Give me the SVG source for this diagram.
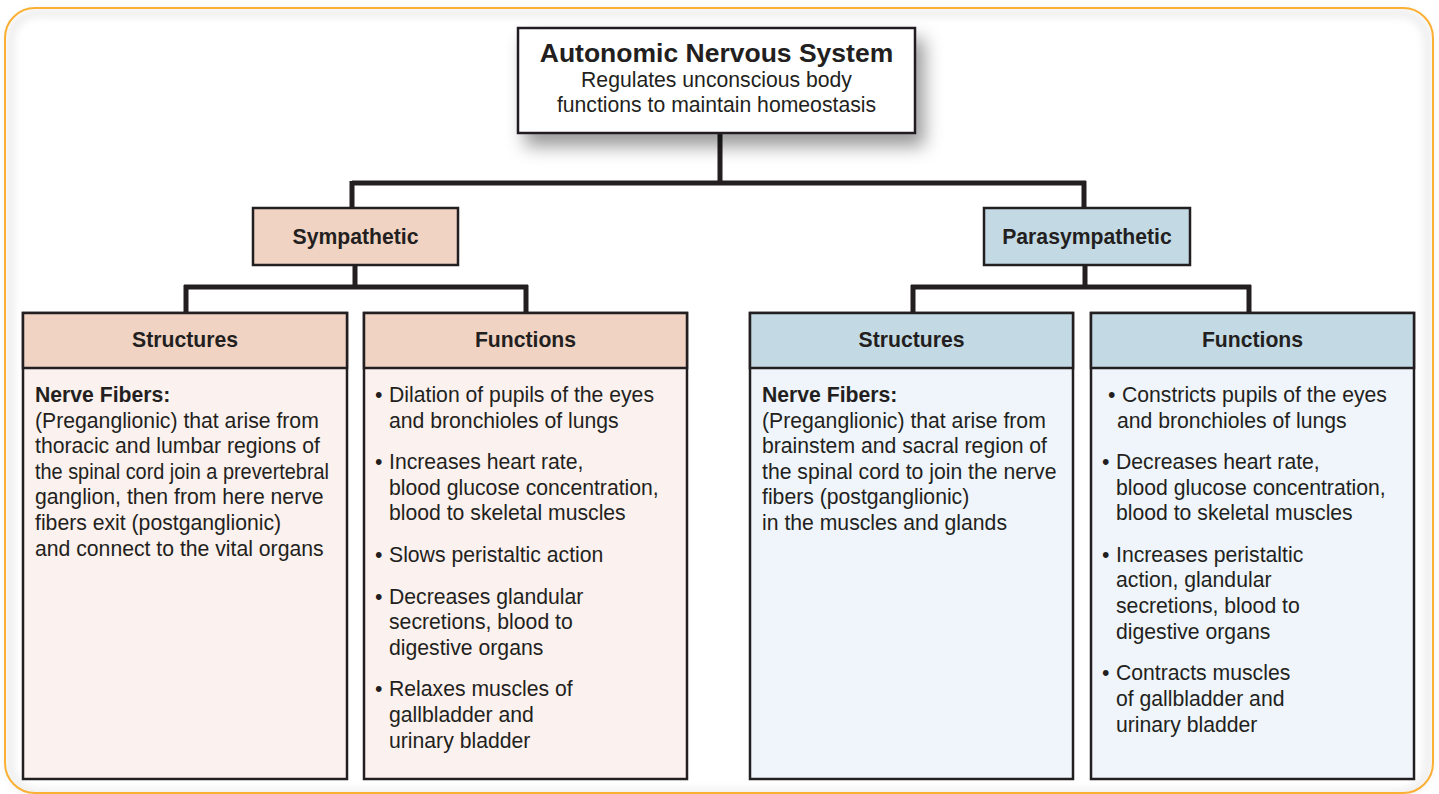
<svg xmlns="http://www.w3.org/2000/svg" width="1439" height="794" viewBox="0 0 1439 794">
<style>
text{font-family:"Liberation Sans",Arial,Helvetica,sans-serif;fill:#231f20}
.t{font-size:21.2px}
.h{font-size:21.2px;font-weight:bold}
.ttl{font-size:26.5px;font-weight:bold}
.box{stroke:#231f20;stroke-width:2.5}
.sh{fill:#f0d3c3}.sb{fill:#fbf1ee}
.ph{fill:#c3dae5}.pb{fill:#eff5fa}
.con{fill:none;stroke:#231f20;stroke-width:5}
</style>
<defs>
<filter id="ds" x="-20%" y="-30%" width="150%" height="180%">
<feDropShadow dx="8" dy="12" stdDeviation="9" flood-color="#000" flood-opacity="0.4"/>
</filter>
<filter id="glow" x="-5%" y="-5%" width="110%" height="110%">
<feGaussianBlur stdDeviation="4"/>
</filter>
</defs>
<rect x="0" y="0" width="1439" height="794" fill="#fff"/>
<g id="frame">
<rect x="10" y="13" width="1418" height="780" rx="28" fill="none" stroke="#e6e6e6" stroke-width="6" filter="url(#glow)"/>
<rect x="5" y="8" width="1428" height="785" rx="30" fill="none" stroke="#fbb034" stroke-width="2"/>
</g>
<g id="connectors">
<path class="con" d="M720 133V183M352 183H1086M352 181V208M1084 181V208"/>
<path class="con" d="M355 265V287M184 287H528M186 285V313M526 285V313"/>
<path class="con" d="M1085 265V287M911 287H1251M913 285V313M1249 285V313"/>
</g>
<g id="root">
<rect class="box" x="518" y="28" width="397" height="105" fill="#fff" filter="url(#ds)"/>
<text class="ttl" x="716.5" y="62" text-anchor="middle">Autonomic Nervous System</text>
<text class="t" x="716.5" y="87" text-anchor="middle">Regulates unconscious body</text>
<text class="t" x="716.5" y="112" text-anchor="middle">functions to maintain homeostasis</text>
</g>
<g id="sympathetic">
<rect class="box sh" x="253" y="208" width="205" height="57"/>
<text class="h" x="355.5" y="244" text-anchor="middle">Sympathetic</text>
</g>
<g id="parasympathetic">
<rect class="box ph" x="984" y="208" width="206" height="57"/>
<text class="h" x="1087" y="244" text-anchor="middle">Parasympathetic</text>
</g>
<g id="symp-structures">
<rect class="box sb" x="23" y="313" width="324" height="466"/>
<rect class="box sh" x="23" y="313" width="324" height="55"/>
<text class="h" x="185" y="347" text-anchor="middle">Structures</text>
<text class="h" x="35" y="402">Nerve Fibers:</text>
<text class="t" x="35" y="428">(Preganglionic) that arise from</text>
<text class="t" x="35" y="453">thoracic and lumbar regions of</text>
<text class="t" x="35" y="479" textLength="294" lengthAdjust="spacingAndGlyphs">the spinal cord join a prevertebral</text>
<text class="t" x="35" y="504">ganglion, then from here nerve</text>
<text class="t" x="35" y="530">fibers exit (postganglionic)</text>
<text class="t" x="35" y="556">and connect to the vital organs</text>
</g>
<g id="symp-functions">
<rect class="box sb" x="364" y="313" width="323" height="466"/>
<rect class="box sh" x="364" y="313" width="323" height="55"/>
<text class="h" x="525.5" y="347" text-anchor="middle">Functions</text>
<text class="t" x="375" y="402">•</text><text class="t" x="389" y="402">Dilation of pupils of the eyes</text>
<text class="t" x="389" y="428">and bronchioles of lungs</text>
<text class="t" x="375" y="469">•</text><text class="t" x="389" y="469">Increases heart rate,</text>
<text class="t" x="389" y="495">blood glucose concentration,</text>
<text class="t" x="389" y="520">blood to skeletal muscles</text>
<text class="t" x="375" y="562">•</text><text class="t" x="389" y="562">Slows peristaltic action</text>
<text class="t" x="375" y="604">•</text><text class="t" x="389" y="604">Decreases glandular</text>
<text class="t" x="389" y="629">secretions, blood to</text>
<text class="t" x="389" y="655">digestive organs</text>
<text class="t" x="375" y="696">•</text><text class="t" x="389" y="696">Relaxes muscles of</text>
<text class="t" x="389" y="722">gallbladder and</text>
<text class="t" x="389" y="748">urinary bladder</text>
</g>
<g id="para-structures">
<rect class="box pb" x="750" y="313" width="323" height="466"/>
<rect class="box ph" x="750" y="313" width="323" height="55"/>
<text class="h" x="911.5" y="347" text-anchor="middle">Structures</text>
<text class="h" x="762" y="402">Nerve Fibers:</text>
<text class="t" x="762" y="428">(Preganglionic) that arise from</text>
<text class="t" x="762" y="453">brainstem and sacral region of</text>
<text class="t" x="762" y="479">the spinal cord to join the nerve</text>
<text class="t" x="762" y="504">fibers (postganglionic)</text>
<text class="t" x="762" y="530">in the muscles and glands</text>
</g>
<g id="para-functions">
<rect class="box pb" x="1091" y="313" width="323" height="466"/>
<rect class="box ph" x="1091" y="313" width="323" height="55"/>
<text class="h" x="1252.5" y="347" text-anchor="middle">Functions</text>
<text class="t" x="1108" y="402">•</text><text class="t" x="1122" y="402">Constricts pupils of the eyes</text>
<text class="t" x="1117" y="428">and bronchioles of lungs</text>
<text class="t" x="1102" y="469">•</text><text class="t" x="1116" y="469">Decreases heart rate,</text>
<text class="t" x="1116" y="495">blood glucose concentration,</text>
<text class="t" x="1116" y="520">blood to skeletal muscles</text>
<text class="t" x="1102" y="562">•</text><text class="t" x="1116" y="562">Increases peristaltic</text>
<text class="t" x="1116" y="587">action, glandular</text>
<text class="t" x="1116" y="613">secretions, blood to</text>
<text class="t" x="1116" y="639">digestive organs</text>
<text class="t" x="1102" y="680">•</text><text class="t" x="1116" y="680">Contracts muscles</text>
<text class="t" x="1116" y="706">of gallbladder and</text>
<text class="t" x="1116" y="732">urinary bladder</text>
</g>
</svg>
